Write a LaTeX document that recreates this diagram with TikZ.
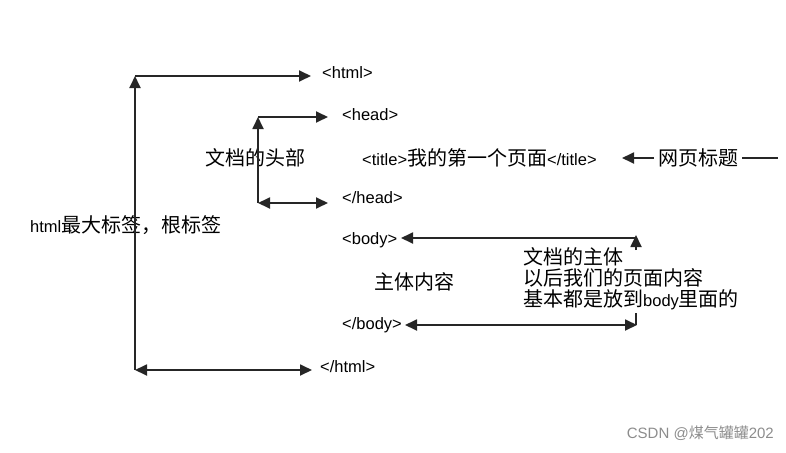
\documentclass[tikz,border=0pt]{standalone}
\usepackage{fontspec}
\setmainfont{Liberation Sans}
\newfontfamily\cjk{Noto Sans CJK SC}
\usetikzlibrary{arrows.meta}
\newcommand{\lt}{\fontsize{16.5}{18}\selectfont}
\newcommand{\zt}{\fontsize{20}{22}\selectfont\cjk}
\begin{document}
\begin{tikzpicture}[x=1pt,y=-1pt,
  lbl/.style={font=\lt,inner sep=0pt},
  zh/.style={font=\zt,inner sep=0pt},
  ln/.style={line width=1.8pt,black!85},
  tip/.style={-{Triangle[length=12pt,width=11pt]}},
  tips/.style={{Triangle[length=12pt,width=11pt]}-{Triangle[length=12pt,width=11pt]}}]
\useasboundingbox (0,0) rectangle (786,452);
\node[lbl,anchor=west] (html) at (322,73) {<html>};
\node[lbl,anchor=west] (ehtml) at (320,367) {</html>};
\node[lbl,anchor=west] (head) at (342,115) {<head>};
\node[lbl,anchor=west] (ehead) at (342,198) {</head>};
\node[lbl,anchor=west] (body) at (342,240) {<body>};
\node[lbl,anchor=west] (ebody) at (342,325) {</body>};
\node[anchor=west,inner sep=0pt] (title) at (362,158) {\lt<title>{\zt 我的第一个页面}</title>};
\node[zh,anchor=west] (wy) at (658,158) {网页标题};
\node[anchor=west,inner sep=0pt] (root) at (30,225) {\lt html{\zt 最大标签，根标签}};
\node[zh,anchor=west] (hd) at (205,158) {文档的头部};
\node[zh,anchor=west] (zt) at (374,282) {主体内容};
\node[zh,anchor=west,align=left,font=\fontsize{20}{21}\selectfont\cjk] (bt) at (523,279) {文档的主体\\以后我们的页面内容\\基本都是放到{\rmfamily\lt body}里面的};
\node[anchor=east,inner sep=0pt,text=black!45] (wm) at (774,433) {\fontsize{15}{17}\selectfont CSDN @{\cjk 煤气罐罐}202};
% html bracket
\coordinate (a1) at (135,370); \coordinate (a2) at (135,76);
\draw[ln,tip] (a1) -- (a2);
\draw[ln,tip] (a2) -- (311,76);
\draw[ln,tips] (a1) -- (312,370);
% head bracket
\coordinate (b1) at (258,203); \coordinate (b2) at (258,117);
\draw[ln,tip] (b1) -- (b2);
\draw[ln,tip] (b2) -- (328,117);
\draw[ln,tips] (b1) -- (328,203);
% title arrow
\draw[ln,tip] (wy.west) ++(-4,0) -- (622,158);
\draw[ln] (wy.east) ++(4,0) -- (778,158);
% body bracket
\draw[ln,tip] (636,250) -- (636,235);
\draw[ln,tip] (636,238) -- (401,238);
\draw[ln] (636,313) -- (636,325);
\draw[ln,tips] (405,325) -- (637,325);
\end{tikzpicture}
\end{document}
